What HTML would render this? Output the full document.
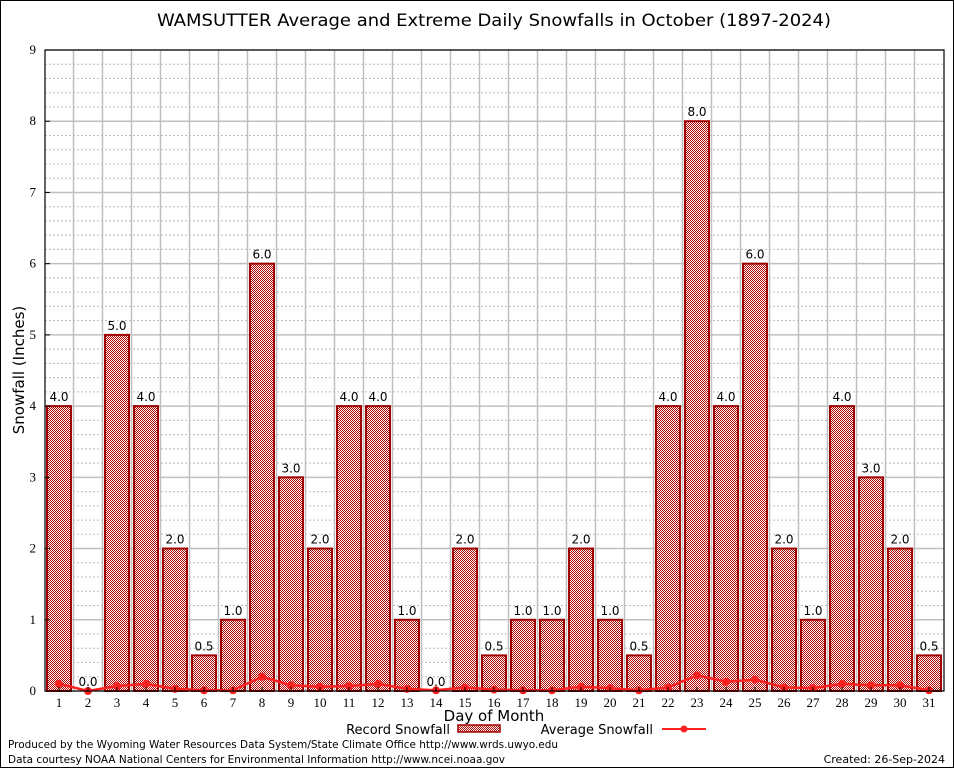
<!DOCTYPE html>
<html><head><meta charset="utf-8"><style>
body{margin:0;background:#fff}
svg{display:block}
</style></head><body>
<svg id="c" width="954" height="768" xmlns="http://www.w3.org/2000/svg">
<defs>
<pattern id="chk" width="2" height="2" patternUnits="userSpaceOnUse">
<rect width="2" height="2" fill="#ffffff"/>
<rect width="1" height="1" fill="#b00000"/>
<rect x="1" y="1" width="1" height="1" fill="#b00000"/>
</pattern>
</defs>
<rect x="0.5" y="0.5" width="953" height="767" fill="#fff" stroke="#000"/>
<text x="494" y="26" text-anchor="middle" font-family="DejaVu Sans, sans-serif" font-size="17" textLength="674" lengthAdjust="spacingAndGlyphs">WAMSUTTER Average and Extreme Daily Snowfalls in October (1897-2024)</text>
<g id="grid"></g>
<g id="bars"></g>
<g id="avg"></g>
<g id="axes"></g>
<text transform="translate(24,370) rotate(-90)" text-anchor="middle" font-family="DejaVu Sans, sans-serif" font-size="15">Snowfall (Inches)</text>
<text x="494" y="721" text-anchor="middle" font-family="DejaVu Sans, sans-serif" font-size="15">Day of Month</text>
<g>
<text x="450" y="734" text-anchor="end" font-family="DejaVu Sans, sans-serif" font-size="13">Record Snowfall</text>
<rect x="458" y="725" width="42" height="7" fill="url(#chk)" stroke="#a00000" stroke-width="1.5"/>
</g>
<g>
<text x="653" y="734" text-anchor="end" font-family="DejaVu Sans, sans-serif" font-size="13">Average Snowfall</text>
<line x1="662" y1="729" x2="706" y2="729" stroke="#ff2020" stroke-width="2"/>
<circle cx="684" cy="729" r="3.5" fill="#ff2020"/>
</g>
<text x="8" y="748" font-family="DejaVu Sans, sans-serif" font-size="11" textLength="550" lengthAdjust="spacingAndGlyphs">Produced by the Wyoming Water Resources Data System/State Climate Office http://www.wrds.uwyo.edu</text>
<text x="8" y="763" font-family="DejaVu Sans, sans-serif" font-size="11" textLength="497" lengthAdjust="spacingAndGlyphs">Data courtesy NOAA National Centers for Environmental Information http://www.ncei.noaa.gov</text>
<text x="945" y="763" text-anchor="end" font-family="DejaVu Sans, sans-serif" font-size="11">Created: 26-Sep-2024</text>
</svg>
<script>
const days=[1,2,3,4,5,6,7,8,9,10,11,12,13,14,15,16,17,18,19,20,21,22,23,24,25,26,27,28,29,30,31];
const recordSnow=[4,0,5,4,2,0.5,1,6,3,2,4,4,1,0,2,0.5,1,1,2,1,0.5,4,8,4,6,2,1,4,3,2,0.5];
const avgSnow=[0.1,0,0.07,0.1,0.03,0.01,0.01,0.2,0.08,0.06,0.07,0.1,0.03,0.01,0.05,0.02,0.01,0.01,0.06,0.04,0.01,0.05,0.22,0.13,0.16,0.05,0.04,0.1,0.08,0.08,0.01];
const yTicks=[0,1,2,3,4,5,6,7,8,9];
const NS="http://www.w3.org/2000/svg";
const L=45,R=944,T=50,B=691,yMax=9;
const x=d=>59+29*(d-1);
const y=v=>B-(v/yMax)*(B-T);
function mk(tag,attrs,parent){const e=document.createElementNS(NS,tag);for(const k in attrs)e.setAttribute(k,attrs[k]);parent.appendChild(e);return e;}
const grid=document.getElementById('grid'),bars=document.getElementById('bars'),avg=document.getElementById('avg'),axes=document.getElementById('axes');
for(let v=0.2;v<yMax;v+=0.2){if(Math.abs(v-Math.round(v))<0.01)continue;
const l=mk('line',{x1:L,x2:R,y1:y(v),y2:y(v),stroke:'#bbb','stroke-dasharray':'2,2','stroke-width':1},grid);

}
yTicks.forEach(v=>{const l=mk('line',{x1:L,x2:R,y1:y(v),y2:y(v),stroke:'#c0c0c0','stroke-width':1.5},grid);


const t=mk('text',{x:L-9,y:y(v)+4,'text-anchor':'end','font-family':'Liberation Serif, serif','font-size':13},axes);t.textContent=v;


mk('line',{x1:L,x2:L+5,y1:y(v),y2:y(v),stroke:'#000'},axes);});
for(let d=1;d<days.length;d++){const gx=(x(days[d-1])+x(days[d]))/2;
const l=mk('line',{x1:gx,x2:gx,y1:T,y2:B,stroke:'#c0c0c0','stroke-width':1.5},grid);

}
days.forEach((d,i)=>{const v=recordSnow[i];
if(v>0){const r=mk('rect',{x:x(d)-12,y:y(v),width:24,height:B-y(v),fill:'url(#chk)',stroke:'#a00000','stroke-width':2},bars);

}
const t=mk('text',{x:x(d),y:y(v)-5,'text-anchor':'middle','font-family':'DejaVu Sans, sans-serif','font-size':12},bars);t.textContent=v.toFixed(1);


const xt=mk('text',{x:x(d),y:B+16,'text-anchor':'middle','font-family':'Liberation Serif, serif','font-size':13},axes);xt.textContent=d;


mk('line',{x1:x(d),x2:x(d),y1:B,y2:B-4,stroke:'#000'},axes);});
let p='';days.forEach((d,i)=>{p+=(i?'L':'M')+x(d)+','+y(avgSnow[i]);});
const pl=mk('path',{d:p,fill:'none',stroke:'#ff2020','stroke-width':2.5},avg);


days.forEach((d,i)=>{const c=mk('circle',{cx:x(d),cy:y(avgSnow[i]),r:4,fill:'#ff2020'},avg);

});
const fr=mk('rect',{x:L,y:T,width:R-L,height:B-T,fill:'none',stroke:'#000','stroke-width':1.2},axes);


</script>
</body></html>
